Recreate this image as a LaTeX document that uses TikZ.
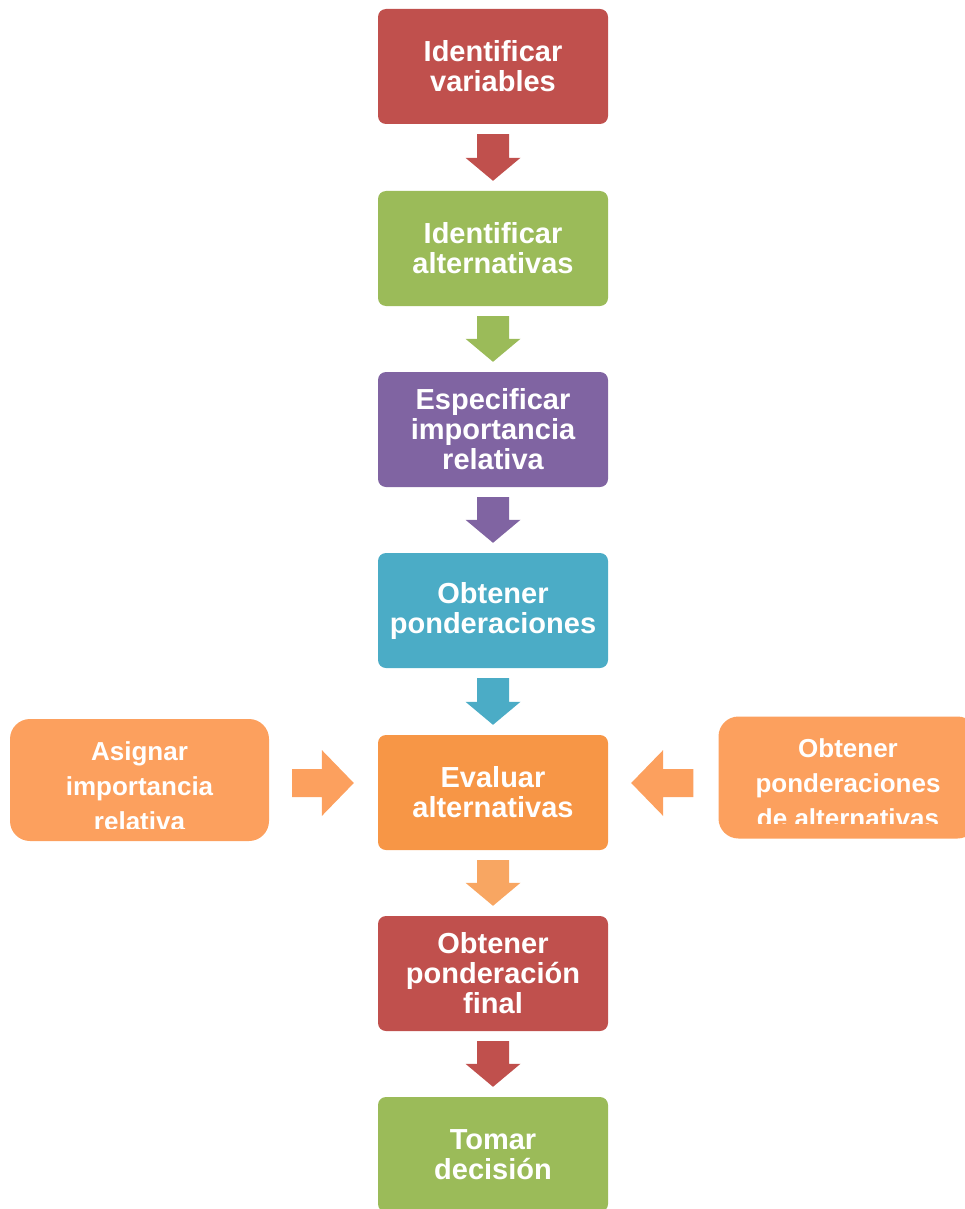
\documentclass[tikz,border=0pt]{standalone}
\usepackage{fontspec}
\setmainfont{Liberation Sans}
\usetikzlibrary{calc}

\definecolor{cred}{HTML}{C0504D}
\definecolor{cgreen}{HTML}{9BBB59}
\definecolor{cpurple}{HTML}{8064A2}
\definecolor{cteal}{HTML}{4BACC6}
\definecolor{corange}{HTML}{F79646}
\definecolor{clight}{HTML}{FCA05E}

\tikzset{
  stepbox/.style={rounded corners=8pt, minimum width=230pt, minimum height=115pt,
    inner sep=0pt, text=white, align=center,
    font=\fontsize{29}{30}\selectfont\bfseries},
  sidebox/.style={rounded corners=20pt, minimum width=259pt, minimum height=122pt,
    inner sep=0pt},
  sidetext/.style={inner sep=0pt, text=white, align=center,
    font=\fontsize{26}{35}\selectfont\bfseries},
}

% vertical block arrow from the bottom of #1 to the top of #2
\newcommand{\blockdown}[3]{%
  \fill[#3] let \p1=(#1.south), \p2=(#2.north) in
    (\x1-16pt,\y1-10pt) -- (\x1+16pt,\y1-10pt) -- (\x1+16pt,\y2+33pt)
    -- (\x1+27.5pt,\y2+33pt) -- (\x1,\y2+10pt) -- (\x1-27.5pt,\y2+33pt)
    -- (\x1-16pt,\y2+33pt) -- cycle;}

\begin{document}
\begin{tikzpicture}[x=1pt, y={(0pt,-1pt)}]
\useasboundingbox (0,0) rectangle (964,1209);

% main column
\node[stepbox, fill=cred]    (s1) at (493,66.5)  {Identificar\\variables};
\node[stepbox, fill=cgreen]  (s2) at (493,248.5) {Identificar\\alternativas};
\node[stepbox, fill=cpurple] (s3) at (493,429.5) {Especificar\\importancia\\relativa};
\node[stepbox, fill=cteal]   (s4) at (493,610.5) {Obtener\\ponderaciones};
\node[stepbox, fill=corange] (s5) at (493,792.5) {Evaluar\\alternativas};
\node[stepbox, fill=cred]    (s6) at (493,973.5) {Obtener\\ponderación\\final};
\node[stepbox, fill=cgreen]  (s7) at (493,1154.5) {Tomar\\decisión};

\blockdown{s1}{s2}{cred}
\blockdown{s2}{s3}{cgreen}
\blockdown{s3}{s4}{cpurple}
\blockdown{s4}{s5}{cteal}
\blockdown{s5}{s6}{corange!85!white}
\blockdown{s6}{s7}{cred}

% side inputs
\node[sidebox, fill=clight] (left) at (139.5,780) {};
\begin{scope}
  \clip (left.north west) rectangle ($(left.south east)+(0,-13)$);
  \node[sidetext] (leftt) at (139.5,786) {Asignar\\importancia\\relativa};
\end{scope}

\node[sidebox, fill=clight] (right) at (848,777.5) {};
\begin{scope}
  \clip (right.north west) rectangle ($(right.south east)+(0,-15)$);
  \node[sidetext] (rightt) at (848,783) {Obtener\\ponderaciones\\de alternativas};
\end{scope}

% horizontal block arrows into the evaluation step
\fill[clight] let \p1=(left.east), \p2=(s5.west) in
  (\x1+23pt,-783pt+14pt) -- (\x2-56pt,-783pt+14pt) -- (\x2-56pt,-783pt+33pt)
  -- (\x2-24pt,-783pt) -- (\x2-56pt,-783pt-33pt) -- (\x2-56pt,-783pt-14pt)
  -- (\x1+23pt,-783pt-14pt) -- cycle;
\fill[clight] let \p1=(s5.east), \p2=(right.west) in
  (\x2-25pt,-783pt+14pt) -- (\x1+55pt,-783pt+14pt) -- (\x1+55pt,-783pt+33pt)
  -- (\x1+23pt,-783pt) -- (\x1+55pt,-783pt-33pt) -- (\x1+55pt,-783pt-14pt)
  -- (\x2-25pt,-783pt-14pt) -- cycle;
\end{tikzpicture}
\end{document}
